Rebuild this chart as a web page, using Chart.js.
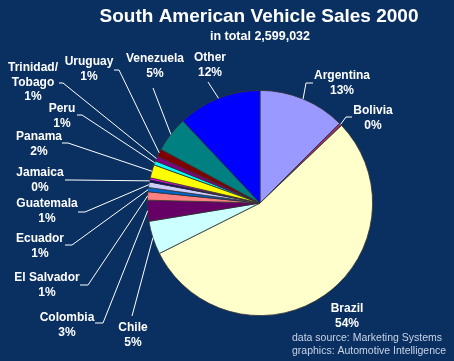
<!DOCTYPE html>
<html>
<head>
<meta charset="utf-8">
<script src="https://cdn.jsdelivr.net/npm/chart.js@4/dist/chart.umd.min.js"></script>
<style>
  html, body { margin: 0; padding: 0; background: #0a3062; }
  #wrap { width: 454px; height: 361px; }
</style>
</head>
<body>
<div id="wrap"><canvas id="myChart" width="454" height="361"></canvas></div>
<script>
// data (share of 2,599,032 vehicles, in %)
const countries = ['Argentina', 'Bolivia', 'Brazil', 'Chile', 'Colombia', 'El Salvador', 'Ecuador', 'Guatemala',
    'Jamaica', '', 'Panama', 'Peru', 'Trinidad/\nTobago', 'Uruguay', 'Venezuela', 'Other'];
const shares = [12.5, 0.4, 54.7, 4.8, 3.0, 1.2, 0.6, 0.8, 0.3, 0.3, 1.9, 0.6, 0.7, 1.1, 5.1, 12.0];
const pctLabels = ['13%', '0%', '54%', '5%', '3%', '1%', '1%', '1%', '0%', '', '2%', '1%', '1%', '1%', '5%', '12%'];
const sliceColors = ['#9999FF', '#993366', '#FFFFCC', '#CCFFFF', '#660066', '#FF8080', '#0066CC', '#CCCCFF',
    '#000080', '#FF00FF', '#FFFF00', '#00FFFF', '#800080', '#800000', '#008080', '#0000FF'];

const titleText = 'South American Vehicle Sales 2000';
const subTitleText = 'in total 2,599,032';
const footerLines = ['data source: Marketing Systems', 'graphics: Automotive Intelligence'];

// label placement: text centre (first line), leader elbow, leader tick end
const labelLayout = [
    { x: 342, y: 76, elbow: [306, 83], end: [313, 83] },
    { x: 373, y: 111, elbow: [346, 117], end: [352, 117] },
    { x: 347, y: 309, elbow: null, end: null },
    { x: 133, y: 328, elbow: [132, 316], end: null },
    { x: 67, y: 318, elbow: [103, 323], end: [95, 323] },
    { x: 47, y: 278, elbow: [88, 285], end: [80, 285] },
    { x: 40, y: 239, elbow: [72, 245], end: [65, 245] },
    { x: 47, y: 204, elbow: [85, 212], end: [78, 212] },
    { x: 40, y: 173, elbow: [72, 180], end: [65, 180] },
    null,
    { x: 39, y: 137, elbow: [68, 143], end: [62, 143] },
    { x: 62, y: 109, elbow: [82, 115], end: [77, 115] },
    { x: 33, y: 68, elbow: [63, 83], end: [59, 83] },
    { x: 89, y: 62, elbow: [119, 70], end: [114, 70] },
    { x: 155, y: 59, elbow: [153, 88], end: null },
    { x: 210, y: 58, elbow: [208, 82], end: null }
];

const bgPlugin = {
    id: 'bg',
    beforeDraw(chart) {
        const c = chart.ctx;
        c.save();
        c.fillStyle = '#0a3062';
        c.fillRect(0, 0, chart.width, chart.height);
        c.restore();
    }
};

const textPlugin = {
    id: 'texts',
    afterDatasetsDraw(chart) {
        const c = chart.ctx;
        const arcs = chart.getDatasetMeta(0).data;
        c.save();
        c.textAlign = 'center';
        c.textBaseline = 'middle';
        c.fillStyle = '#ffffff';
        c.font = 'bold 19px "Liberation Sans", Arial, sans-serif';
        c.fillText(titleText, 259, 17);
        c.font = 'bold 12.5px "Liberation Sans", Arial, sans-serif';
        c.fillText(subTitleText, 260, 37);

        // leader lines
        c.strokeStyle = '#ffffff';
        c.lineWidth = 1;
        arcs.forEach((arc, i) => {
            const lay = labelLayout[i];
            if (!lay || !lay.elbow) return;
            const p = arc.getProps(['x', 'y', 'startAngle', 'endAngle', 'outerRadius'], true);
            const mid = (p.startAngle + p.endAngle) / 2;
            c.beginPath();
            c.moveTo(p.x + Math.cos(mid) * p.outerRadius, p.y + Math.sin(mid) * p.outerRadius);
            c.lineTo(lay.elbow[0], lay.elbow[1]);
            if (lay.end) c.lineTo(lay.end[0], lay.end[1]);
            c.stroke();
        });

        // labels
        c.font = 'bold 12px "Liberation Sans", Arial, sans-serif';
        countries.forEach((name, i) => {
            const lay = labelLayout[i];
            if (!lay || !name) return;
            const lines = name.split('\n').concat([pctLabels[i]]);
            lines.forEach((t, k) => c.fillText(t, lay.x, lay.y + k * 14.5));
        });

        // footer
        c.textAlign = 'left';
        c.fillStyle = '#c8d3e6';
        c.font = '10.5px "Liberation Sans", Arial, sans-serif';
        c.fillText(footerLines[0], 292, 338);
        c.fillText(footerLines[1], 292, 351);
        c.restore();
    }
};

const ctx = document.getElementById('myChart');
new Chart(ctx, {
    type: 'pie',
    data: {
        labels: countries,
        datasets: [
            {
                data: shares,
                backgroundColor: sliceColors,
                borderColor: '#333333',
                borderWidth: 0.8
            }
        ]
    },
    options: {
        responsive: false,
        animation: false,
        devicePixelRatio: 1,
        layout: { padding: { left: 147, right: 81, top: 90, bottom: 45 } },
        plugins: {
            legend: { display: false },
            tooltip: { enabled: false }
        }
    },
    plugins: [bgPlugin, textPlugin]
});
</script>
</body>
</html>
